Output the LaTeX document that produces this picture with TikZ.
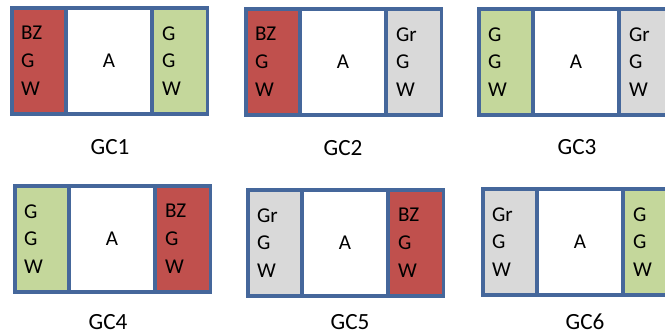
\documentclass[tikz,border=0pt]{standalone}
\usepackage{fontspec}
\setmainfont{Carlito}
\usetikzlibrary{positioning}
\definecolor{bordo}{HTML}{45679B}
\definecolor{rosso}{HTML}{C0504D}
\definecolor{verde}{HTML}{C4D79B}
\definecolor{grigio}{HTML}{D9D9D9}

\begin{document}
\begin{tikzpicture}[x=0.025cm, y=-0.025cm,
			every node/.style={outer sep=0pt},
			panel/.style={rectangle, draw=bordo, line width=2.4pt, minimum height=2.65cm,
				inner xsep=0pt, align=left, font=\fontsize{15}{19.8}\selectfont},
			lato/.style={panel, minimum width=1.35cm, text width=1.35cm-0.45cm, anchor=north west},
			destra/.style={panel, minimum width=1.39cm, text width=1.39cm-0.5cm},
			centro/.style={panel, fill=white, minimum width=2.15cm, align=center},
			nome/.style={font=\fontsize{16.5}{18}\selectfont},
			node distance=0pt]

			\useasboundingbox (0,0) rectangle (665,334);
			\clip (0,0) rectangle (665,334);
			\fill[white] (0,0) rectangle (665,334);

			% Riga superiore
			\node[lato, fill=rosso] (l1) at (12,8) {BZ\\G\\W};
			\node[centro, right=of l1] (m1) {A};
			\node[destra, fill=verde, right=of m1] (r1) {G\\G\\W};
			\node[nome] (gc1) at (110,147) {GC1};

			\node[lato, fill=rosso] (l2) at (246,9) {BZ\\G\\W};
			\node[centro, right=of l2] (m2) {A};
			\node[destra, fill=grigio, right=of m2] (r2) {Gr\\G\\W};
			\node[nome] (gc2) at (343,148) {GC2};

			\node[lato, fill=verde] (l3) at (479,9) {G\\G\\W};
			\node[centro, right=of l3] (m3) {A};
			\node[destra, fill=grigio, right=of m3] (r3) {Gr\\G\\W};
			\node[nome] (gc3) at (577,147) {GC3};

			% Riga inferiore
			\node[lato, fill=verde] (l4) at (15,186) {G\\G\\W};
			\node[centro, right=of l4] (m4) {A};
			\node[destra, fill=rosso, right=of m4] (r4) {BZ\\G\\W};
			\node[nome] (gc4) at (108,322) {GC4};

			\node[lato, fill=grigio] (l5) at (248,190) {Gr\\G\\W};
			\node[centro, right=of l5] (m5) {A};
			\node[destra, fill=rosso, right=of m5] (r5) {BZ\\G\\W};
			\node[nome] (gc5) at (350,322) {GC5};

			\node[lato, fill=grigio] (l6) at (483,189) {Gr\\G\\W};
			\node[centro, right=of l6] (m6) {A};
			\node[destra, fill=verde, right=of m6] (r6) {G\\G\\W};
			\node[nome] (gc6) at (585,322) {GC6};
		\end{tikzpicture}
\end{document}
